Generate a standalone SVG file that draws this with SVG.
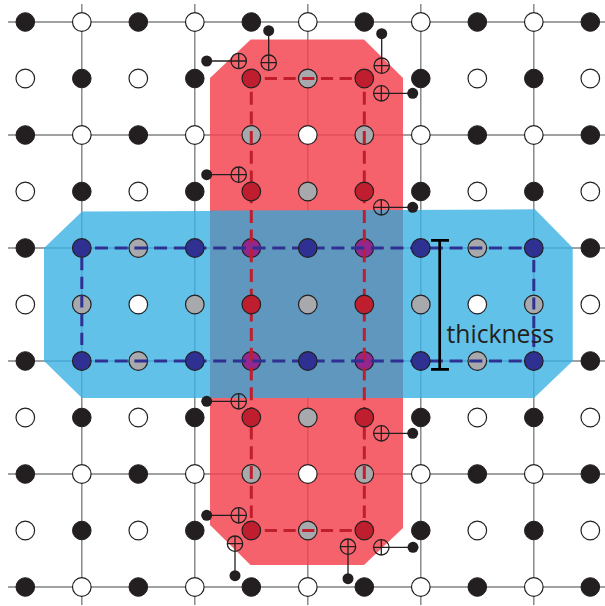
<svg xmlns="http://www.w3.org/2000/svg" width="605" height="606" viewBox="0 0 605 606">
<style>
.grid line{stroke:#808285;stroke-width:1.4}
.b{fill:#231f20;stroke:#231f20;stroke-width:1}
.w{fill:#fff;stroke:#231f20;stroke-width:1.2}
.g{fill:#a7a9ac;stroke:#231f20;stroke-width:1.2}
.r{fill:#be1e2d;stroke:#231f20;stroke-width:1.2}
.u{fill:#2e3192;stroke:#231f20;stroke-width:1.2}
.p{fill:#92278f;stroke:#231f20;stroke-width:1.2}
.dr{stroke:#be1e2d;stroke-width:3;fill:none}
.du{stroke:#2e3192;stroke-width:3;fill:none}
.h{stroke-dasharray:12.2 6.5}
.v{stroke-dasharray:13 6.7}
.lead{stroke:#231f20;stroke-width:1.3;fill:none}
.plus circle,.plus path{fill:none;stroke:#231f20;stroke-width:1.3}
.dot{fill:#231f20}
.bar{stroke:#000;stroke-width:2.7;fill:none}
.lbl{font-family:"Open Sans","Noto Sans",sans-serif;font-size:24.7px;fill:#231f20}
</style>
<defs>
<g id="plus" class="plus"><circle r="7.7"/><path d="M-7.7 0H7.7M0-7.7V7.7"/></g>
</defs>
<g id="grid" class="grid">
<line x1="8" y1="22" x2="605" y2="22"/><line x1="8" y1="135" x2="605" y2="135"/><line x1="8" y1="248" x2="605" y2="248"/><line x1="8" y1="361" x2="605" y2="361"/><line x1="8" y1="474" x2="605" y2="474"/><line x1="8" y1="587" x2="605" y2="587"/>
<line x1="81.8" y1="4" x2="81.8" y2="605"/><line x1="194.8" y1="4" x2="194.8" y2="605"/><line x1="307.8" y1="4" x2="307.8" y2="605"/><line x1="420.8" y1="4" x2="420.8" y2="605"/><line x1="533.8" y1="4" x2="533.8" y2="605"/>
</g>
<g id="regions">
<polygon id="red-region" points="250.7,39.5 364,39.5 403,78 403,528 364,565 250.5,565 210,525 210,78" fill="#f4424e" fill-opacity="0.83"/>
<polygon id="blue-region" points="82,211.5 210,211 403,210 535,209.3 572.7,247.7 572.7,361 534,398 82,398 44,361 44,248" fill="#3bb1e3" fill-opacity="0.8"/>
<rect id="overlap" x="210" y="210.5" width="193" height="187.5" fill="#6095bb" fill-opacity="0.82"/>
</g>
<g id="nodes-lower">
<g id="n0-0"><circle class="b" cx="25.3" cy="22" r="9.3"/></g><g id="n0-1"><circle class="w" cx="81.8" cy="22" r="9.3"/></g><g id="n0-2"><circle class="b" cx="138.3" cy="22" r="9.3"/></g><g id="n0-3"><circle class="w" cx="194.8" cy="22" r="9.3"/></g><g id="n0-4"><circle class="b" cx="251.3" cy="22" r="9.3"/></g><g id="n0-5"><circle class="w" cx="307.8" cy="22" r="9.3"/></g><g id="n0-6"><circle class="b" cx="364.3" cy="22" r="9.3"/></g><g id="n0-7"><circle class="w" cx="420.8" cy="22" r="9.3"/></g><g id="n0-8"><circle class="b" cx="477.3" cy="22" r="9.3"/></g><g id="n0-9"><circle class="w" cx="533.8" cy="22" r="9.3"/></g><g id="n0-10"><circle class="b" cx="590.3" cy="22" r="9.3"/></g>
<g id="n1-0"><circle class="w" cx="25.3" cy="78.5" r="9.3"/></g><g id="n1-1"><circle class="b" cx="81.8" cy="78.5" r="9.3"/></g><g id="n1-2"><circle class="w" cx="138.3" cy="78.5" r="9.3"/></g><g id="n1-3"><circle class="b" cx="194.8" cy="78.5" r="9.3"/></g><g id="n1-5"><circle class="g" cx="307.8" cy="78.5" r="9.3"/></g><g id="n1-7"><circle class="b" cx="420.8" cy="78.5" r="9.3"/></g><g id="n1-8"><circle class="w" cx="477.3" cy="78.5" r="9.3"/></g><g id="n1-9"><circle class="b" cx="533.8" cy="78.5" r="9.3"/></g><g id="n1-10"><circle class="w" cx="590.3" cy="78.5" r="9.3"/></g>
<g id="n2-0"><circle class="b" cx="25.3" cy="135" r="9.3"/></g><g id="n2-1"><circle class="w" cx="81.8" cy="135" r="9.3"/></g><g id="n2-2"><circle class="b" cx="138.3" cy="135" r="9.3"/></g><g id="n2-3"><circle class="w" cx="194.8" cy="135" r="9.3"/></g><g id="n2-4"><circle class="g" cx="251.3" cy="135" r="9.3"/></g><g id="n2-5"><circle class="w" cx="307.8" cy="135" r="9.3"/></g><g id="n2-6"><circle class="g" cx="364.3" cy="135" r="9.3"/></g><g id="n2-7"><circle class="w" cx="420.8" cy="135" r="9.3"/></g><g id="n2-8"><circle class="b" cx="477.3" cy="135" r="9.3"/></g><g id="n2-9"><circle class="w" cx="533.8" cy="135" r="9.3"/></g><g id="n2-10"><circle class="b" cx="590.3" cy="135" r="9.3"/></g>
<g id="n3-0"><circle class="w" cx="25.3" cy="191.5" r="9.3"/></g><g id="n3-1"><circle class="b" cx="81.8" cy="191.5" r="9.3"/></g><g id="n3-2"><circle class="w" cx="138.3" cy="191.5" r="9.3"/></g><g id="n3-3"><circle class="b" cx="194.8" cy="191.5" r="9.3"/></g><g id="n3-5"><circle class="g" cx="307.8" cy="191.5" r="9.3"/></g><g id="n3-7"><circle class="b" cx="420.8" cy="191.5" r="9.3"/></g><g id="n3-8"><circle class="w" cx="477.3" cy="191.5" r="9.3"/></g><g id="n3-9"><circle class="b" cx="533.8" cy="191.5" r="9.3"/></g><g id="n3-10"><circle class="w" cx="590.3" cy="191.5" r="9.3"/></g>
<g id="n4-0"><circle class="b" cx="25.3" cy="248" r="9.3"/></g><g id="n4-2"><circle class="g" cx="138.3" cy="248" r="9.3"/></g><g id="n4-4"><circle class="p" cx="251.3" cy="248" r="9.3"/></g><g id="n4-6"><circle class="p" cx="364.3" cy="248" r="9.3"/></g><g id="n4-8"><circle class="g" cx="477.3" cy="248" r="9.3"/></g><g id="n4-10"><circle class="b" cx="590.3" cy="248" r="9.3"/></g>
<g id="n5-0"><circle class="w" cx="25.3" cy="304.5" r="9.3"/></g><g id="n5-1"><circle class="g" cx="81.8" cy="304.5" r="9.3"/></g><g id="n5-2"><circle class="w" cx="138.3" cy="304.5" r="9.3"/></g><g id="n5-3"><circle class="g" cx="194.8" cy="304.5" r="9.3"/></g><g id="n5-5"><circle class="g" cx="307.8" cy="304.5" r="9.3"/></g><g id="n5-7"><circle class="g" cx="420.8" cy="304.5" r="9.3"/></g><g id="n5-8"><circle class="w" cx="477.3" cy="304.5" r="9.3"/></g><g id="n5-9"><circle class="g" cx="533.8" cy="304.5" r="9.3"/></g><g id="n5-10"><circle class="w" cx="590.3" cy="304.5" r="9.3"/></g>
<g id="n6-0"><circle class="b" cx="25.3" cy="361" r="9.3"/></g><g id="n6-2"><circle class="g" cx="138.3" cy="361" r="9.3"/></g><g id="n6-4"><circle class="p" cx="251.3" cy="361" r="9.3"/></g><g id="n6-6"><circle class="p" cx="364.3" cy="361" r="9.3"/></g><g id="n6-8"><circle class="g" cx="477.3" cy="361" r="9.3"/></g><g id="n6-10"><circle class="b" cx="590.3" cy="361" r="9.3"/></g>
<g id="n7-0"><circle class="w" cx="25.3" cy="417.5" r="9.3"/></g><g id="n7-1"><circle class="b" cx="81.8" cy="417.5" r="9.3"/></g><g id="n7-2"><circle class="w" cx="138.3" cy="417.5" r="9.3"/></g><g id="n7-3"><circle class="b" cx="194.8" cy="417.5" r="9.3"/></g><g id="n7-5"><circle class="g" cx="307.8" cy="417.5" r="9.3"/></g><g id="n7-7"><circle class="b" cx="420.8" cy="417.5" r="9.3"/></g><g id="n7-8"><circle class="w" cx="477.3" cy="417.5" r="9.3"/></g><g id="n7-9"><circle class="b" cx="533.8" cy="417.5" r="9.3"/></g><g id="n7-10"><circle class="w" cx="590.3" cy="417.5" r="9.3"/></g>
<g id="n8-0"><circle class="b" cx="25.3" cy="474" r="9.3"/></g><g id="n8-1"><circle class="w" cx="81.8" cy="474" r="9.3"/></g><g id="n8-2"><circle class="b" cx="138.3" cy="474" r="9.3"/></g><g id="n8-3"><circle class="w" cx="194.8" cy="474" r="9.3"/></g><g id="n8-4"><circle class="g" cx="251.3" cy="474" r="9.3"/></g><g id="n8-5"><circle class="w" cx="307.8" cy="474" r="9.3"/></g><g id="n8-6"><circle class="g" cx="364.3" cy="474" r="9.3"/></g><g id="n8-7"><circle class="w" cx="420.8" cy="474" r="9.3"/></g><g id="n8-8"><circle class="b" cx="477.3" cy="474" r="9.3"/></g><g id="n8-9"><circle class="w" cx="533.8" cy="474" r="9.3"/></g><g id="n8-10"><circle class="b" cx="590.3" cy="474" r="9.3"/></g>
<g id="n9-0"><circle class="w" cx="25.3" cy="530.5" r="9.3"/></g><g id="n9-1"><circle class="b" cx="81.8" cy="530.5" r="9.3"/></g><g id="n9-2"><circle class="w" cx="138.3" cy="530.5" r="9.3"/></g><g id="n9-3"><circle class="b" cx="194.8" cy="530.5" r="9.3"/></g><g id="n9-5"><circle class="g" cx="307.8" cy="530.5" r="9.3"/></g><g id="n9-7"><circle class="b" cx="420.8" cy="530.5" r="9.3"/></g><g id="n9-8"><circle class="w" cx="477.3" cy="530.5" r="9.3"/></g><g id="n9-9"><circle class="b" cx="533.8" cy="530.5" r="9.3"/></g><g id="n9-10"><circle class="w" cx="590.3" cy="530.5" r="9.3"/></g>
<g id="n10-0"><circle class="b" cx="25.3" cy="587" r="9.3"/></g><g id="n10-1"><circle class="w" cx="81.8" cy="587" r="9.3"/></g><g id="n10-2"><circle class="b" cx="138.3" cy="587" r="9.3"/></g><g id="n10-3"><circle class="w" cx="194.8" cy="587" r="9.3"/></g><g id="n10-4"><circle class="b" cx="251.3" cy="587" r="9.3"/></g><g id="n10-5"><circle class="w" cx="307.8" cy="587" r="9.3"/></g><g id="n10-6"><circle class="b" cx="364.3" cy="587" r="9.3"/></g><g id="n10-7"><circle class="w" cx="420.8" cy="587" r="9.3"/></g><g id="n10-8"><circle class="b" cx="477.3" cy="587" r="9.3"/></g><g id="n10-9"><circle class="w" cx="533.8" cy="587" r="9.3"/></g><g id="n10-10"><circle class="b" cx="590.3" cy="587" r="9.3"/></g>
</g>
<g id="connectors">
<path class="dr h" d="M264.8 78.5H352"/>
<path class="dr h" d="M264.8 530.5H352"/>
<path class="dr v" d="M251.3 91.7V518"/>
<path class="dr v" d="M364.3 91.7V518"/>
<path class="du v" d="M95 248H522"/>
<path class="du v" d="M95 361H522"/>
<path class="du h" d="M81.8 258V349"/>
<path class="du h" d="M533.8 260V350"/>
<path class="lead" d="M206.7 61H231M268.7 30.7V55M381.7 33.7V58M412.7 93.3H389M206.7 174.7H231M412.7 207.3H389M206.7 401.3H231M412.7 433.3H389M206.7 515.3H231M235 575.7V551.4M348 578.7V554.4M413 547.3H389"/>
</g>
<g id="nodes-upper">
<g id="n1-4"><circle class="r" cx="251.3" cy="78.5" r="9.3"/></g><g id="n1-6"><circle class="r" cx="364.3" cy="78.5" r="9.3"/></g>
<g id="n3-4"><circle class="r" cx="251.3" cy="191.5" r="9.3"/></g><g id="n3-6"><circle class="r" cx="364.3" cy="191.5" r="9.3"/></g>
<g id="n5-4"><circle class="r" cx="251.3" cy="304.5" r="9.3"/></g><g id="n5-6"><circle class="r" cx="364.3" cy="304.5" r="9.3"/></g>
<g id="n7-4"><circle class="r" cx="251.3" cy="417.5" r="9.3"/></g><g id="n7-6"><circle class="r" cx="364.3" cy="417.5" r="9.3"/></g>
<g id="n9-4"><circle class="r" cx="251.3" cy="530.5" r="9.3"/></g><g id="n9-6"><circle class="r" cx="364.3" cy="530.5" r="9.3"/></g>
<g id="n4-1"><circle class="u" cx="81.8" cy="248" r="9.3"/></g><g id="n4-3"><circle class="u" cx="194.8" cy="248" r="9.3"/></g><g id="n4-5"><circle class="u" cx="307.8" cy="248" r="9.3"/></g><g id="n4-7"><circle class="u" cx="420.8" cy="248" r="9.3"/></g><g id="n4-9"><circle class="u" cx="533.8" cy="248" r="9.3"/></g>
<g id="n6-1"><circle class="u" cx="81.8" cy="361" r="9.3"/></g><g id="n6-3"><circle class="u" cx="194.8" cy="361" r="9.3"/></g><g id="n6-5"><circle class="u" cx="307.8" cy="361" r="9.3"/></g><g id="n6-7"><circle class="u" cx="420.8" cy="361" r="9.3"/></g><g id="n6-9"><circle class="u" cx="533.8" cy="361" r="9.3"/></g>
</g>
<g id="markers">
<g id="m1"><circle class="dot" cx="206.7" cy="61" r="5.5"/><use href="#plus" x="238.7" y="61"/></g>
<g id="m2"><circle class="dot" cx="268.7" cy="30.7" r="5.5"/><use href="#plus" x="268.7" y="62.7"/></g>
<g id="m3"><circle class="dot" cx="381.7" cy="33.7" r="5.5"/><use href="#plus" x="381.7" y="65.7"/></g>
<g id="m4"><circle class="dot" cx="412.7" cy="93.3" r="5.5"/><use href="#plus" x="381.3" y="93.3"/></g>
<g id="m5"><circle class="dot" cx="206.7" cy="174.7" r="5.5"/><use href="#plus" x="238.7" y="174.7"/></g>
<g id="m6"><circle class="dot" cx="412.7" cy="207.3" r="5.5"/><use href="#plus" x="381.3" y="207.3"/></g>
<g id="m7"><circle class="dot" cx="206.7" cy="401.3" r="5.5"/><use href="#plus" x="238.7" y="401.3"/></g>
<g id="m8"><circle class="dot" cx="412.7" cy="433.3" r="5.5"/><use href="#plus" x="381.3" y="433.3"/></g>
<g id="m9"><circle class="dot" cx="206.7" cy="515.3" r="5.5"/><use href="#plus" x="238.7" y="515.3"/></g>
<g id="m10"><circle class="dot" cx="235" cy="575.7" r="5.5"/><use href="#plus" x="235" y="543.7"/></g>
<g id="m11"><circle class="dot" cx="348" cy="578.7" r="5.5"/><use href="#plus" x="348" y="546.7"/></g>
<g id="m12"><circle class="dot" cx="413" cy="547.3" r="5.5"/><use href="#plus" x="381.3" y="547.3"/></g>
</g>
<g id="thickness">
<path class="bar" d="M431 240.3H449M431 369.3H449M439.7 240.3V369.3"/>
<text class="lbl" x="446.5" y="343.3">thickness</text>
</g>
</svg>
